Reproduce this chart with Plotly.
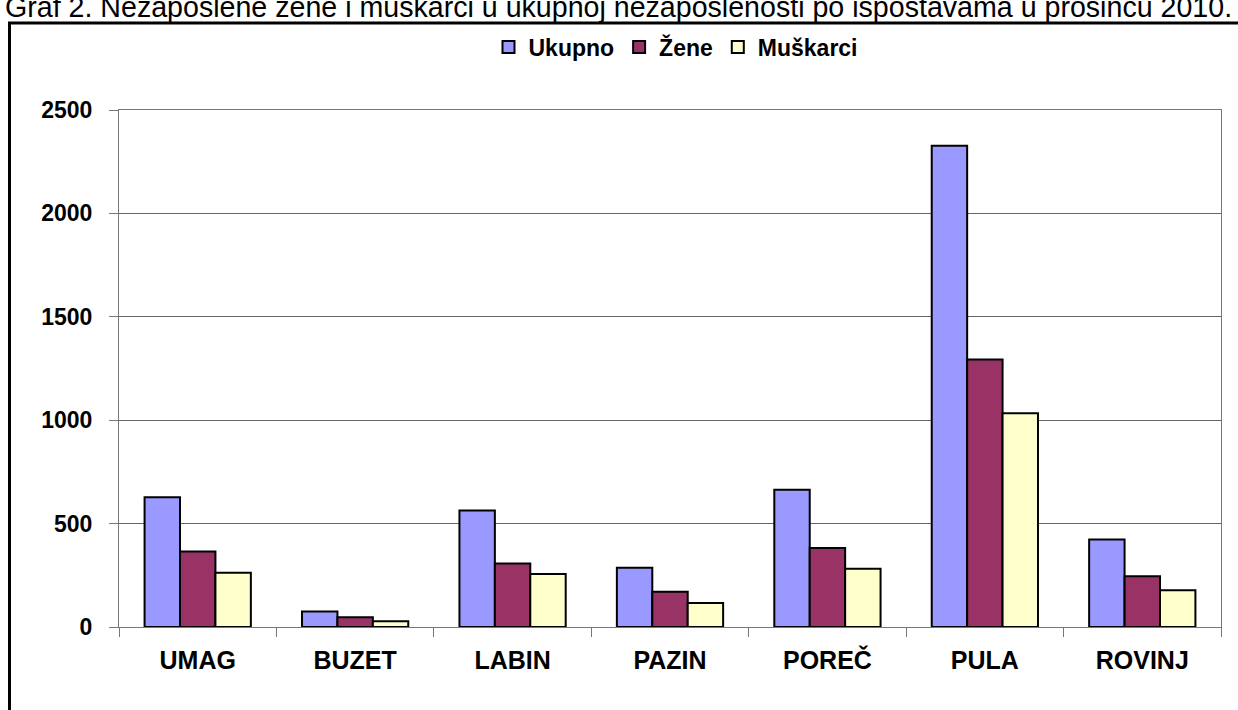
import plotly.graph_objects as go

categories = ["UMAG", "BUZET", "LABIN", "PAZIN", "POREČ", "PULA", "ROVINJ"]
ukupno = [627, 75, 563, 286, 664, 2327, 423]
zene = [365, 47, 307, 170, 382, 1293, 245]
muskarci = [262, 28, 256, 116, 282, 1034, 178]
series_names = ["Ukupno", "Žene", "Muškarci"]
title_text = "Graf 2. Nezaposlene žene i muškarci u ukupnoj nezaposlenosti po ispostavama u prosincu 2010."

colors = ["#9999FF", "#993366", "#FFFFCC"]

W, H = 1238, 710
L, R, T, B = 119, 17, 110, 82.5
pw, ph = W - L - R, H - T - B

def px_x(x):
    return (x - L) / pw

def px_y(y):
    return (H - B - y) / ph

fig = go.Figure()
for name, vals, col in zip(series_names, [ukupno, zene, muskarci], colors):
    fig.add_trace(go.Bar(
        x=categories, y=vals, name=name,
        marker=dict(color=col, line=dict(color="black", width=2)),
    ))

fig.update_layout(
    width=W, height=H,
    margin=dict(l=L, r=R, t=T, b=B, autoexpand=False),
    paper_bgcolor="white", plot_bgcolor="white",
    barmode="group", bargap=0.325, bargroupgap=0,
    font=dict(family="Liberation Sans, Arial, sans-serif", color="black"),
    legend=dict(
        orientation="h", x=px_x(676), xanchor="center", y=px_y(47), yanchor="middle",
        font=dict(size=23, family="Liberation Sans, Arial", weight="bold"),
        itemwidth=30, tracegroupgap=0, bgcolor="rgba(0,0,0,0)",
    ),
    showlegend=True,
)

fig.update_xaxes(
    type="category", tickson="boundaries", ticks="outside", ticklen=9, tickcolor="#777",
    showline=True, linecolor="#777", linewidth=1, mirror=True,
    showgrid=False,
    tickfont=dict(size=25, family="Liberation Sans, Arial", weight="bold", color="black"),
    ticklabelstandoff=11,
)
fig.update_yaxes(
    range=[0, 2500], dtick=500, ticks="outside", ticklen=9, tickcolor="#777",
    showline=True, linecolor="#777", linewidth=1, mirror=True,
    showgrid=True, gridcolor="#666", gridwidth=1, zeroline=False,
    tickfont=dict(size=23, family="Liberation Sans, Arial", weight="bold", color="black"),
    ticklabelstandoff=12,
)

# outer chart frame (extends beyond the visible window)
fig.add_shape(type="rect", xref="paper", yref="paper",
              x0=px_x(9.5), y0=px_y(730), x1=px_x(1260), y1=px_y(23),
              line=dict(color="black", width=3), fillcolor="rgba(0,0,0,0)", layer="below")

fig.add_annotation(
    text=title_text, xref="paper", yref="paper",
    x=px_x(3), xanchor="left", y=px_y(7), yanchor="middle",
    showarrow=False, font=dict(size=28.6, family="Liberation Sans, Arial", color="black"),
)

fig.write_html("out.html", config={"displayModeBar": False},
               post_script="document.body.style.margin='0';")
